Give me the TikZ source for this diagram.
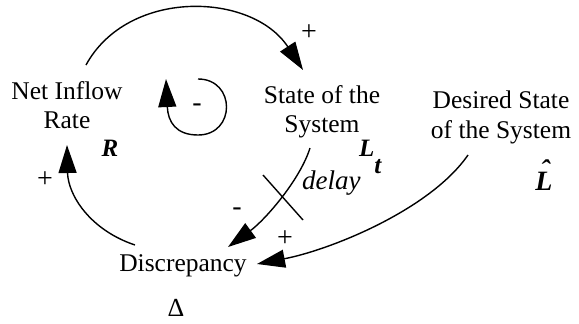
\documentclass[tikz,border=0pt]{standalone}
\usepackage{fontspec}
\setmainfont{Liberation Serif}
\usetikzlibrary{arrows.meta}
\newcommand{\hatL}{\ooalign{L\cr\hidewidth\kern2pt\raisebox{11pt}{ˆ}\hidewidth\cr}}
\begin{document}
\begin{tikzpicture}[x=1pt,y=-1pt,
  lbl/.style={inner sep=0pt, font=\fontsize{25.5}{29.5}\selectfont, align=center},
  sym/.style={inner sep=0pt, font=\fontsize{25}{29}\selectfont\bfseries\itshape},
  sgn/.style={inner sep=0pt, font=\fontsize{28}{30}\selectfont},
  link/.style={line width=1.4pt, -{Triangle[length=28pt,width=18pt]}},
  plain/.style={line width=1.4pt}
]
\useasboundingbox (0,0) rectangle (579,324);
% text nodes
\node[lbl,anchor=north] (rate) at (67,81) {Net Inflow\\Rate};
\node[lbl,anchor=north] (state) at (322,85) {State of the\\System};
\node[lbl,anchor=north] (desired) at (501,91) {Desired State\\of the System};
\node[lbl,anchor=base] (disc) at (183,271) {Discrepancy};
\node[sym,anchor=base] (R) at (110,156) {R};
\node[sym,anchor=base west] (Lt) at (359,156) {L\raisebox{-17pt}{t}};
\node[lbl,anchor=base west,font=\fontsize{27}{30}\selectfont\itshape] (delay) at (302,189) {delay};
\node[sym,anchor=base,font=\fontsize{28}{30}\selectfont\bfseries\itshape] (Lhat) at (544,190) {\hatL};
\node[lbl,anchor=base,font=\fontsize{26}{29}\selectfont] (Delta) at (176,316) {Δ};
% signs
\node[sgn] (p1) at (309,33) {+};
\node[sgn] (m1) at (197,108) {-};
\node[sgn] (p2) at (45,180) {+};
\node[sgn] (m2) at (237,212) {-};
\node[sgn] (p3) at (285,239) {+};
% connector end points
\coordinate (rateOut) at (86,65);
\coordinate (stateIn) at (303,70);
\coordinate (loopStart) at (198,79);
\coordinate (loopEnd) at (166,79);
\coordinate (discOut) at (135,245);
\coordinate (rateIn) at (67,145);
\coordinate (stateOut) at (310,148);
\coordinate (discInA) at (228,247);
\coordinate (desiredOut) at (468,155);
\coordinate (discInB) at (257,264);
\coordinate (delayA) at (263,175);
\coordinate (delayB) at (303,220);
% connectors
\draw[link] (rateOut) .. controls (128,-12) and (252,-8) .. (stateIn);
\draw[link] (loopStart) .. controls (236,79) and (236,135) .. (198,135)
   .. controls (176,135) and (168,122) .. (loopEnd);
\draw[link] (discOut) .. controls (90,230) and (68,195) .. (rateIn);
\draw[link] (stateOut) .. controls (300,180) and (265,220) .. (discInA);
\draw[link] (desiredOut) .. controls (430,210) and (330,250) .. (discInB);
\draw[plain] (delayA) -- (delayB);
\end{tikzpicture}
\end{document}
